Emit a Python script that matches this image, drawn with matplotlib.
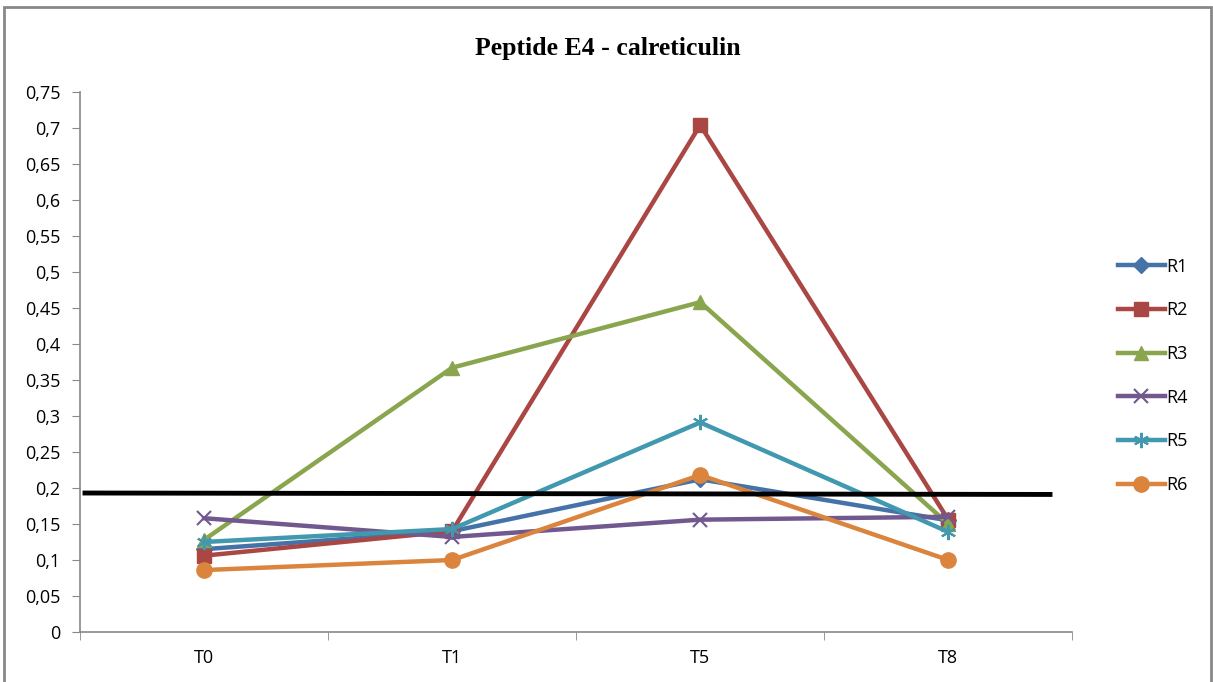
import matplotlib
matplotlib.use("Agg")
import matplotlib.pyplot as plt
from matplotlib.patches import Rectangle
import numpy as np

# data
categories = ["T0", "T1", "T5", "T8"]
series_names = ["R1", "R2", "R3", "R4", "R5", "R6"]
r1 = [0.115, 0.140, 0.212, 0.155]
r2 = [0.106, 0.140, 0.704, 0.156]
r3 = [0.128, 0.367, 0.458, 0.150]
r4 = [0.158, 0.132, 0.156, 0.160]
r5 = [0.125, 0.143, 0.291, 0.139]
r6 = [0.086, 0.100, 0.218, 0.100]
threshold = [0.193, 0.191]
yticks = np.arange(0, 0.751, 0.05)

colors = ["#4572A7", "#AA4643", "#89A54E", "#71588F", "#4198AF", "#DB843D"]
markers = ["D", "s", "^", "x", (6, 2, 0), "o"]
msizes = [8, 10, 10, 10, 11, 11]

fig = plt.figure(figsize=(12.13, 6.82), dpi=100)
ax = fig.add_axes([0.066, 0.0733, 0.818, 0.792])

x = np.arange(len(categories))
for name, vals, c, m, ms in zip(series_names, [r1, r2, r3, r4, r5, r6], colors, markers, msizes):
  ax.plot(x, vals, color=c, lw=3.2, marker=m, markersize=ms, markeredgewidth=1.5 if m in ("x", (6, 2, 0)) else 1,
          markerfacecolor=c, markeredgecolor=c, label=name)

# threshold line drawn across the plot
ax.plot([-0.49, 3.42], threshold, color="black", lw=3.5, solid_capstyle="butt", zorder=5)

ax.set_xlim(-0.5, 3.5)
ax.set_ylim(0, 0.75)
ax.set_xticks(x)
ax.set_xticklabels(categories, fontsize=13, family="Open Sans")
ax.set_xticks(np.arange(-0.5, 3.51, 1), minor=True)
ax.tick_params(axis="x", which="major", length=0, pad=12)
ax.tick_params(axis="x", which="minor", length=6, color="#888888", direction="out")
ax.set_yticks(yticks)
ax.set_yticklabels([("%g" % v).replace(".", ",") for v in yticks], fontsize=13, family="Open Sans")
ax.tick_params(axis="y", length=6, color="#888888", direction="out", pad=8)

for s in ["top", "right"]:
  ax.spines[s].set_visible(False)
for s in ["left", "bottom"]:
  ax.spines[s].set_color("#888888")
  ax.spines[s].set_linewidth(1.2)

fig.text(0.501, 0.929, "Peptide E4 - calreticulin", ha="center", va="center",
         fontsize=18.5, fontweight="bold", family="Liberation Serif")

fig.legend(loc="center left", bbox_to_anchor=(0.908, 0.449), frameon=False,
           handlelength=2.6, labelspacing=1.42, handletextpad=0.1, prop={"family": "Open Sans", "size": 13})

fig.patches.append(Rectangle((0.0035, -0.02), 0.9945, 1.0095, transform=fig.transFigure,
                             fill=False, edgecolor="#888888", lw=2))

plt.savefig("out.png", dpi=100)
